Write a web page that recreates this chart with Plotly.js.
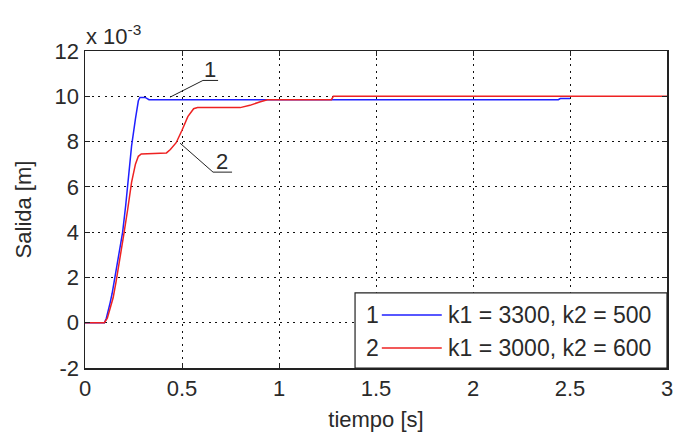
<!DOCTYPE html>
<html>
<head>
<meta charset="utf-8">
<script src="https://cdn.plot.ly/plotly-3.0.1.min.js"></script>
<style>html,body{margin:0;padding:0;background:#fff;}#chart{width:675px;height:438px;}</style>
</head>
<body>
<div id="chart"></div>
<script>
// Series 1: k1 = 3300, k2 = 500 (output in units of 1e-3 m)
var t1 = [0, 0.1, 0.11, 0.12, 0.13, 0.14, 0.155, 0.175, 0.194, 0.21, 0.225, 0.24, 0.26, 0.275, 0.283, 0.31, 0.33, 2.44, 2.45, 2.5];
var y1 = [0, 0, 0.2, 0.5, 0.9, 1.3, 2.0, 3.0, 4.0, 5.2, 6.5, 7.8, 9.0, 9.8, 9.95, 9.95, 9.85, 9.85, 9.9, 9.9];
// Series 2: k1 = 3000, k2 = 600
var t2 = [0, 0.1, 0.115, 0.13, 0.145, 0.16, 0.18, 0.2, 0.22, 0.24, 0.26, 0.275, 0.29, 0.42, 0.44, 0.47, 0.5, 0.53, 0.56, 0.58, 0.8, 0.85, 0.9, 0.94, 1.27, 1.28, 3.0];
var y2 = [0, 0, 0.2, 0.6, 1.1, 1.8, 2.8, 3.9, 5.0, 6.2, 7.0, 7.35, 7.45, 7.5, 7.65, 7.95, 8.5, 9.1, 9.45, 9.5, 9.5, 9.6, 9.75, 9.85, 9.85, 10.0, 10.0];
var seriesNames = ["k1 = 3300, k2 = 500", "k1 = 3000, k2 = 600"];
var seriesLabels = ["1", "2"];
var xTicks = [0, 0.5, 1, 1.5, 2, 2.5, 3];
var xTickText = ["0", "0.5", "1", "1.5", "2", "2.5", "3"];
var yTicks = [-2, 0, 2, 4, 6, 8, 10, 12];
var yTickText = ["-2", "0", "2", "4", "6", "8", "10", "12"];

var FONT = "Liberation Sans, Arial, sans-serif";
var TXT = "#2a2a2a";
var axisCommon = {
  showline: true, linecolor: "#222", linewidth: 1.5, mirror: "ticks",
  ticks: "inside", ticklen: 5, tickcolor: "#222",
  showgrid: true, gridcolor: "#111", gridwidth: 1, griddash: "2px,4.5px",
  zeroline: false, tickfont: {family: FONT, size: 22, color: TXT}
};

var traces = [
  {x: t1, y: y1, type: "scatter", mode: "lines", name: seriesNames[0], line: {color: "#1f1fff", width: 1.5}, showlegend: false},
  {x: t2, y: y2, type: "scatter", mode: "lines", name: seriesNames[1], line: {color: "#ee2222", width: 1.5}, showlegend: false}
];

var layout = {
  width: 675, height: 438,
  margin: {l: 85, r: 8, t: 51, b: 70},
  paper_bgcolor: "#fff", plot_bgcolor: "#fff",
  showlegend: false,
  xaxis: Object.assign({}, axisCommon, {
    range: [0, 3], tickvals: xTicks, ticktext: xTickText,
    title: {text: "tiempo [s]", font: {family: FONT, size: 22, color: TXT}, standoff: 11}
  }),
  yaxis: Object.assign({}, axisCommon, {
    range: [-2, 12], tickvals: yTicks, ticktext: yTickText,
    title: {text: "Salida [m]", font: {family: FONT, size: 22, color: TXT}, standoff: 17}
  }),
  shapes: [
    // leader lines
    {type: "path", xref: "x", yref: "y", path: "M 0.438 9.96 L 0.608 10.7 L 0.686 10.7", line: {color: "#222", width: 1}},
    {type: "path", xref: "x", yref: "y", path: "M 0.49 7.93 L 0.66 6.65 L 0.758 6.65", line: {color: "#222", width: 1}},
    // legend box
    {type: "rect", xref: "paper", yref: "paper", x0: 0.464, x1: 1, y0: 0, y1: 0.237, fillcolor: "#fff", line: {color: "#222", width: 1.2}, layer: "above"},
    {type: "line", xref: "paper", yref: "paper", x0: 0.51, x1: 0.613, y0: 0.167, y1: 0.167, line: {color: "#1f1fff", width: 1.5}, layer: "above"},
    {type: "line", xref: "paper", yref: "paper", x0: 0.51, x1: 0.613, y0: 0.063, y1: 0.063, line: {color: "#ee2222", width: 1.5}, layer: "above"}
  ],
  annotations: [
    {text: "x 10<sup>-3</sup>", xref: "paper", yref: "paper", x: -0.002, y: 1.0, xanchor: "left", yanchor: "bottom", showarrow: false, font: {family: FONT, size: 22, color: TXT}},
    {text: seriesLabels[0], xref: "x", yref: "y", x: 0.644, y: 10.7, xanchor: "center", yanchor: "bottom", yshift: -4, showarrow: false, font: {family: FONT, size: 22, color: TXT}},
    {text: seriesLabels[1], xref: "x", yref: "y", x: 0.706, y: 6.65, xanchor: "center", yanchor: "bottom", yshift: -4, showarrow: false, font: {family: FONT, size: 22, color: TXT}},
    {text: seriesLabels[0], xref: "paper", yref: "paper", x: 0.508, y: 0.167, xanchor: "right", yanchor: "middle", showarrow: false, font: {family: FONT, size: 23, color: TXT}},
    {text: seriesLabels[1], xref: "paper", yref: "paper", x: 0.508, y: 0.063, xanchor: "right", yanchor: "middle", showarrow: false, font: {family: FONT, size: 23, color: TXT}},
    {text: seriesNames[0], xref: "paper", yref: "paper", x: 0.62, y: 0.167, xanchor: "left", yanchor: "middle", showarrow: false, font: {family: FONT, size: 23, color: TXT}},
    {text: seriesNames[1], xref: "paper", yref: "paper", x: 0.62, y: 0.063, xanchor: "left", yanchor: "middle", showarrow: false, font: {family: FONT, size: 23, color: TXT}}
  ]
};

Plotly.newPlot("chart", traces, layout, {staticPlot: true, displayModeBar: false});
</script>
</body>
</html>
